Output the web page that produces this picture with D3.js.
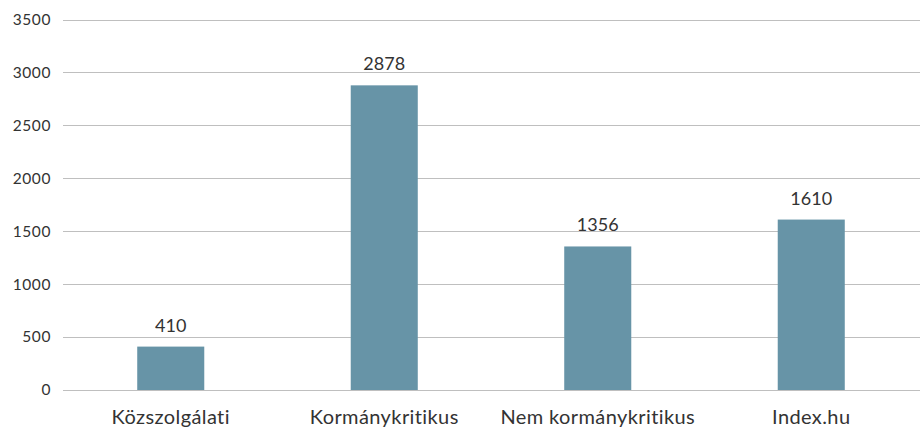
<html>
<head>
<meta charset="utf-8">
<script src="https://cdnjs.cloudflare.com/ajax/libs/d3/7.8.5/d3.min.js"></script>
<style>
  body { margin: 0; background: #fff; }
  text { font-family: Lato, "Open Sans", sans-serif; fill: #333; }
</style>
</head>
<body>
<svg id="chart"></svg>
<script>
var categories = ["Közszolgálati", "Kormánykritikus", "Nem kormánykritikus", "Index.hu"];
var values = [410, 2878, 1356, 1610];
var yTicks = [0, 500, 1000, 1500, 2000, 2500, 3000, 3500];

var width = 920, height = 427;
var plotLeft = 64, plotRight = 918, plotTop = 19.5, plotBottom = 390;

var svg = d3.select("#chart")
    .attr("width", width)
    .attr("height", height);

var x = d3.scaleBand()
    .domain(categories)
    .range([plotLeft, plotRight])
    .paddingInner(0.686)
    .paddingOuter(0.343);

var y = d3.scaleLinear()
    .domain([0, 3500])
    .range([plotBottom, plotTop]);

// gridlines
svg.append("g")
    .selectAll("line")
    .data(yTicks)
    .enter().append("line")
    .attr("x1", plotLeft - 1)
    .attr("x2", width)
    .attr("y1", function(d) { return Math.round(y(d)) + 0.5; })
    .attr("y2", function(d) { return Math.round(y(d)) + 0.5; })
    .attr("stroke", "#bfbfbf")
    .attr("stroke-width", 1);

// y tick labels
svg.append("g")
    .selectAll("text")
    .data(yTicks)
    .enter().append("text")
    .attr("x", 51)
    .attr("y", function(d) { return y(d); })
    .attr("dy", "0.35em")
    .attr("text-anchor", "end")
    .style("font-size", "15.5px")
    .style("letter-spacing", "0.6px")
    .text(function(d) { return d; });

// bars
svg.append("g")
    .selectAll("rect")
    .data(values)
    .enter().append("rect")
    .attr("x", function(d, i) { return x(categories[i]); })
    .attr("width", x.bandwidth())
    .attr("y", function(d) { return y(d); })
    .attr("height", function(d) { return plotBottom - y(d); })
    .attr("fill", "#6794a7");

// value labels
svg.append("g")
    .selectAll("text")
    .data(values)
    .enter().append("text")
    .attr("x", function(d, i) { return x(categories[i]) + x.bandwidth() / 2; })
    .attr("y", function(d) { return y(d) - 15; })
    .attr("text-anchor", "middle")
    .style("font-size", "18px")
    .text(function(d) { return d; });

// category labels
svg.append("g")
    .selectAll("text")
    .data(categories)
    .enter().append("text")
    .attr("x", function(d) { return x(d) + x.bandwidth() / 2; })
    .attr("y", 424)
    .attr("text-anchor", "middle")
    .style("font-size", "20px")
    .style("letter-spacing", "0.4px")
    .text(function(d) { return d; });
</script>
</body>
</html>
